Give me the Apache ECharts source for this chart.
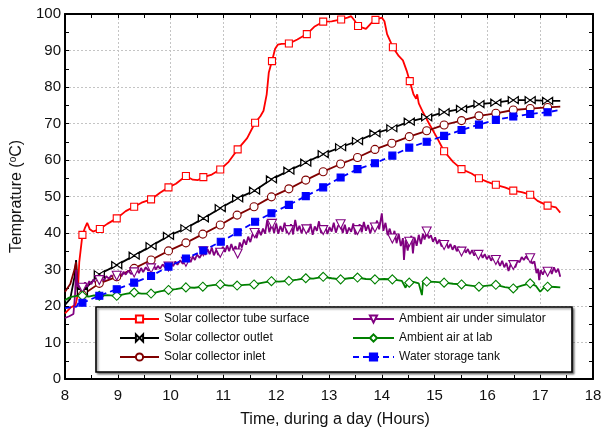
<!DOCTYPE html>
<html>
<head>
<meta charset="utf-8">
<script src="https://cdn.jsdelivr.net/npm/echarts@6/dist/echarts.min.js"></script>
<style>
  html, body { margin: 0; padding: 0; background: #fff; }
  #chart { width: 606px; height: 436px; }
</style>
</head>
<body>
<div id="chart"></div>
<script>
// ---- Measured temperatures (time in hours, temperature in °C) ----
// Each curve: a trace of in-between readings plus the readings shown with markers.

const tubeSurfaceTrace = [
  [8.00,18],[8.10,19.5],[8.20,20.3],[8.24,23],[8.27,32],[8.38,41.5],[8.42,42.8],[8.47,41.0],[8.53,40.4],
  [8.80,42.5],[9.15,46.0],[9.45,48.3],[9.80,51.0],[10.10,53.5],[10.42,54.6],[10.52,54.5],[10.78,56.0],
  [11.10,59.5],[11.45,66.0],[11.70,72.0],[11.76,73.5],[11.82,78.0],[11.86,84.0],[11.98,90.5],[12.03,91.6],
  [12.10,91.8],[12.40,93.0],[12.72,96.5],[13.05,98.0],[13.35,99.0],[13.42,99.4],[13.48,98.3],[13.70,95.9],
  [13.80,97.5],[14.00,99.0],[14.05,98.0],[14.10,94.5],[14.32,88.5],[14.40,87.3],[14.47,84.5],[14.60,78.0],
  [14.65,76.8],[14.67,78.0],[14.70,75.5],[14.79,72.8],[14.91,69.6],[15.05,66.0],[15.35,59.5],[15.70,56.3],
  [16.00,54.0],[16.33,52.5],[16.65,51.2],[16.95,48.8],[17.30,47.0],[17.38,45.6]
];
const tubeSurfaceMarks = [
  [8.33,39.5],[8.66,41.1],[8.98,44.0],[9.31,47.2],[9.63,49.2],[9.96,52.5],[10.29,55.6],[10.62,55.3],
  [10.94,57.4],[11.27,62.9],[11.60,70.2],[11.92,87.1],[12.24,91.9],[12.58,94.5],[12.89,97.9],[13.23,98.5],
  [13.55,96.7],[13.88,98.4],[14.21,90.9],[14.53,81.6],[15.18,62.4],[15.51,57.5],[15.84,55.0],[16.16,53.2],
  [16.49,51.6],[16.81,50.5],[17.14,47.5]
];

const outletTrace = [
  [8.00,20.3],[8.10,22],[8.18,28],[8.21,32.6],[8.24,24.5],[8.28,23.5],[8.40,25.0],[8.50,26.5],[17.38,76.2]
];
const outletMarks = [
  [8.33,24.0],[8.65,28.7],[8.98,31.2],[9.31,33.8],[9.63,36.4],[9.96,39.2],[10.29,41.3],[10.62,44.0],
  [10.94,46.8],[11.27,49.5],[11.59,51.6],[11.91,54.7],[12.24,57.1],[12.56,59.3],[12.89,61.6],[13.22,63.5],
  [13.54,65.2],[13.87,67.3],[14.19,68.7],[14.52,70.5],[14.85,71.7],[15.18,73.1],[15.51,74.0],[15.84,75.3],
  [16.16,75.7],[16.49,76.4],[16.81,76.4],[17.14,76.2]
];

const inletTrace = [
  [8.00,23.9],[8.10,26],[8.18,30],[8.21,32],[8.24,24],[8.28,22.5],[17.38,74.6]
];
const inletMarks = [
  [8.33,23.0],[8.65,26.2],[8.98,28.0],[9.31,30.3],[9.63,32.6],[9.96,35.1],[10.29,37.3],[10.61,39.7],
  [10.94,42.2],[11.26,44.9],[11.58,47.2],[11.91,49.9],[12.24,52.1],[12.56,54.5],[12.89,56.8],[13.22,58.9],
  [13.54,60.7],[13.87,62.9],[14.19,64.6],[14.52,66.4],[14.85,68.0],[15.18,69.6],[15.51,70.8],[15.84,72.1],
  [16.16,72.8],[16.49,73.7],[16.81,74.1],[17.14,74.4]
];

const simulatorAirTrace = [
  [8.00,16.7],[8.08,17.2],[8.16,17.8],[8.19,23],[8.21,29.9],[8.23,26],[8.26,24.8],
  [8.38,26.5],[8.42,25.2],[8.46,26.8],[8.50,26.0],[8.54,27.3],[8.58,26.4],
  [8.70,27.8],[8.74,26.9],[8.78,28.2],[8.83,27.5],[8.88,28.4],[8.93,27.6],
  [9.03,29.0],[9.07,28.1],[9.11,29.4],[9.15,28.6],[9.20,29.7],[9.25,28.8],
  [9.36,30.1],[9.40,29.0],[9.44,30.4],[9.48,29.3],[9.53,30.6],[9.58,29.7],
  [9.68,31.2],[9.72,30.0],[9.76,31.0],[9.80,30.2],[9.85,31.4],[9.90,30.5],
  [10.01,31.8],[10.05,30.9],[10.09,32.2],[10.13,31.3],[10.18,32.5],[10.23,31.6],
  [10.34,33.2],[10.38,32.0],[10.42,33.6],[10.46,32.6],[10.50,34.1],[10.55,33.2],
  [10.66,34.0],[10.70,35.6],[10.74,34.2],[10.78,36.0],[10.82,33.9],[10.87,35.5],[10.90,34.0],
  [10.99,36.2],[11.03,34.8],[11.07,36.6],[11.11,35.0],[11.15,37.0],[11.19,35.2],[11.23,36.4],
  [11.31,37.4],[11.35,36.0],[11.39,38.2],[11.43,36.8],[11.47,39.0],[11.51,37.5],[11.55,39.6],
  [11.63,38.6],[11.67,40.8],[11.71,39.4],[11.75,41.2],[11.79,39.8],[11.83,43.6],[11.87,40.2],
  [11.96,40.0],[12.00,42.6],[12.04,39.8],[12.08,41.9],[12.12,40.3],[12.16,42.8],[12.20,40.0],
  [12.28,42.4],[12.32,39.6],[12.36,43.6],[12.40,40.5],[12.44,42.0],[12.48,39.9],[12.52,41.7],
  [12.61,40.2],[12.65,42.5],[12.69,39.5],[12.73,41.8],[12.77,40.6],[12.81,43.2],[12.85,40.0],
  [12.93,42.0],[12.97,39.7],[13.01,41.6],[13.05,40.4],[13.09,42.8],[13.13,40.1],[13.17,41.9],
  [13.26,40.0],[13.30,42.3],[13.34,39.8],[13.38,41.5],[13.42,40.3],[13.46,42.6],[13.50,39.6],
  [13.58,42.4],[13.62,40.2],[13.66,43.0],[13.70,40.6],[13.74,42.2],[13.78,39.9],[13.82,41.6],
  [13.91,43.4],[13.95,41.0],[14.00,45.4],[14.03,40.6],[14.07,42.8],[14.11,39.4],[14.15,41.2],
  [14.24,40.6],[14.28,37.2],[14.32,39.8],[14.36,36.4],[14.40,38.6],[14.42,32.6],[14.45,38.0],[14.49,35.2],
  [14.56,39.2],[14.59,34.4],[14.62,38.8],[14.66,36.5],[14.70,39.5],[14.74,37.0],[14.78,39.8],[14.81,38.2],
  [14.89,38.6],[14.93,39.4],[14.97,37.6],[15.01,38.8],[15.05,37.0],[15.09,38.2],[15.13,36.4],
  [15.22,37.6],[15.26,35.8],[15.30,37.0],[15.34,35.4],[15.38,36.6],[15.42,35.0],[15.46,36.2],
  [15.55,35.9],[15.59,34.6],[15.63,35.6],[15.67,34.2],[15.71,35.3],[15.75,33.8],[15.79,34.8],
  [15.87,34.6],[15.91,33.2],[15.95,34.2],[15.99,32.8],[16.03,33.8],[16.07,32.4],[16.11,33.5],
  [16.20,32.2],[16.24,31.0],[16.28,32.4],[16.32,30.6],[16.36,31.8],[16.40,29.6],[16.44,31.4],
  [16.53,30.6],[16.57,32.4],[16.61,32.0],[16.65,33.4],[16.69,32.6],[16.73,33.6],[16.77,32.8],
  [16.85,31.6],[16.89,32.2],[16.93,29.0],[16.96,30.2],[16.98,27.1],[17.01,29.8],[17.05,28.6],[17.09,30.0],
  [17.18,30.4],[17.22,28.8],[17.26,30.6],[17.30,29.2],[17.34,30.2],[17.38,28.0]
];
const simulatorAirMarks = [
  [8.33,25.0],[8.65,27.1],[8.98,28.3],[9.31,29.2],[9.63,30.3],[9.96,30.8],[10.29,32.1],[10.62,35.0],
  [10.94,34.6],[11.27,34.4],[11.59,40.0],[11.92,42.5],[12.24,40.8],[12.57,41.0],[12.89,40.8],[13.22,42.4],
  [13.54,40.8],[13.87,41.5],[14.20,38.5],[14.52,37.6],[14.85,40.4],[15.18,36.7],[15.51,34.9],[15.83,34.0],
  [16.16,32.6],[16.49,31.2],[16.81,33.1],[17.14,29.4]
];

const labAirTrace = [
  [8.00,21.6],[8.08,22.3],[8.15,22.6],[8.22,22.8],[8.45,22.6],[8.55,22.9],[8.80,23.0],[9.15,23.3],
  [9.45,23.4],[9.80,24.0],[10.10,24.6],[10.45,25.0],[10.80,25.7],[11.10,25.6],[11.40,25.8],[11.75,26.4],
  [12.05,26.7],[12.40,27.2],[12.70,27.5],[13.05,27.6],[13.38,27.6],[13.70,27.4],[14.05,27.4],[14.38,26.9],
  [14.45,25.0],[14.50,26.8],[14.60,26.6],[14.70,26.2],[14.76,23.0],[14.78,26.4],[15.00,26.6],[15.35,26.1],
  [15.68,25.6],[16.00,25.6],[16.33,25.2],[16.65,25.6],[16.92,25.5],[17.00,23.9],[17.07,25.0],[17.28,25.2],
  [17.38,25.1]
];
const labAirMarks = [
  [8.33,22.8],[8.65,22.8],[8.98,22.8],[9.31,23.7],[9.63,23.4],[9.96,24.4],[10.29,25.1],[10.61,25.3],
  [10.94,25.9],[11.26,25.6],[11.58,25.9],[11.91,26.8],[12.24,26.9],[12.56,27.6],[12.89,28.0],[13.22,27.3],
  [13.54,27.8],[13.87,27.3],[14.20,27.3],[14.52,26.4],[14.85,26.7],[15.18,26.4],[15.51,25.9],[15.84,25.3],
  [16.16,25.8],[16.49,24.8],[16.81,26.2],[17.14,25.3]
];

const tankTrace = [
  [8.00,19.4],[8.10,19.6],[8.22,19.8],[8.26,21.0],[17.38,73.7]
];
const tankMarks = [
  [8.33,20.9],[8.65,22.8],[8.98,24.6],[9.31,26.4],[9.63,28.2],[9.96,30.8],[10.29,33.0],[10.62,35.2],
  [10.95,37.6],[11.27,40.2],[11.60,43.1],[11.91,45.4],[12.24,47.7],[12.56,50.1],[12.89,52.5],[13.22,55.2],
  [13.54,57.5],[13.87,59.1],[14.20,61.2],[14.52,63.4],[14.85,65.0],[15.18,66.6],[15.51,68.2],[15.84,69.7],
  [16.16,71.0],[16.49,71.9],[16.81,72.6],[17.14,73.1]
];

const seriesNames = [
  'Solar collector tube surface',
  'Solar collector outlet',
  'Solar collector inlet',
  'Ambient air under simulator',
  'Ambient air at lab',
  'Water storage tank'
];

// ---- Chart construction ----

// Merge trace readings (no marker) with marker readings, ordered by time.
function buildData(trace, marks) {
  const pts = trace.map(p => ({ value: p, symbol: 'none' }))
    .concat(marks.map(p => ({ value: p })));
  pts.sort((a, b) => a.value[0] - b.value[0]);
  return pts;
}

const bowtie = 'path://M0,0L6,4L0,8ZM12,0L6,4L12,8Z';

function lineSeries(name, trace, marks, color, symbol, size, fill, extra) {
  return Object.assign({
    name: name,
    type: 'line',
    data: buildData(trace, marks),
    showSymbol: true,
    symbol: symbol,
    symbolSize: size,
    lineStyle: { color: color, width: 1.8 },
    itemStyle: { color: fill, borderColor: color, borderWidth: 1.1 },
    emphasis: { disabled: true },
    animation: false
  }, extra || {});
}

const axisText = { color: '#111', fontSize: 15, fontFamily: 'Liberation Sans, Arial, sans-serif' };
const gridLine = { show: true, lineStyle: { color: '#c4c4c4', type: [2, 2], width: 1 } };
const frameLine = { show: true, onZero: false, lineStyle: { color: '#000', width: 2 } };
const tick = { show: true, inside: true, length: 4, lineStyle: { color: '#000', width: 1 } };
const minor = { show: true, splitNumber: 2, length: 4, lineStyle: { color: '#000', width: 1 } };

const legendCommon = {
  orient: 'vertical', top: 312, padding: 0,
  itemHeight: 9, itemGap: 5, selectedMode: false,
  textStyle: { fontSize: 12, color: '#111', lineHeight: 14 }, z: 10
};

const chart = echarts.init(document.getElementById('chart'), null, { renderer: 'canvas' });

chart.setOption({
  animation: false,
  backgroundColor: '#fff',
  textStyle: { fontFamily: 'Liberation Sans, Arial, sans-serif' },
  grid: { left: 65, right: 13, top: 14, bottom: 57, containLabel: false },
  xAxis: [
    {
      type: 'value', min: 8, max: 18, interval: 1, position: 'bottom',
      name: 'Time, during a day (Hours)', nameLocation: 'middle', nameGap: 33,
      nameTextStyle: { color: '#111', fontSize: 16, padding: [0, 0, 0, 12] },
      axisLine: frameLine, axisTick: tick, minorTick: minor,
      axisLabel: Object.assign({ margin: 9 }, axisText),
      splitLine: gridLine
    },
    {
      type: 'value', min: 8, max: 18, interval: 1, position: 'top',
      axisLine: frameLine, axisTick: tick, minorTick: minor,
      axisLabel: { show: false }, splitLine: { show: false }
    }
  ],
  yAxis: [
    {
      type: 'value', min: 0, max: 100, interval: 10, position: 'left',
      name: '{n|Temprature (}{s|o}{n|C)}', nameLocation: 'middle', nameGap: 37,
      nameTextStyle: {
        rich: {
          n: { fontSize: 16, color: '#111', lineHeight: 18 },
          s: { fontSize: 10, color: '#111', verticalAlign: 'top', lineHeight: 18, padding: [0, 0, 6, 0] }
        }
      },
      axisLine: frameLine, axisTick: tick, minorTick: minor,
      axisLabel: Object.assign({ margin: 4 }, axisText),
      splitLine: gridLine
    },
    {
      type: 'value', min: 0, max: 100, interval: 10, position: 'right',
      axisLine: frameLine, axisTick: tick, minorTick: minor,
      axisLabel: { show: false }, splitLine: { show: false }
    }
  ],
  legend: [
    Object.assign({ data: [seriesNames[0], seriesNames[1], seriesNames[2]], left: 119, itemWidth: 39 }, legendCommon),
    Object.assign({ data: [seriesNames[3], seriesNames[4], seriesNames[5]], left: 352, itemWidth: 41 }, legendCommon)
  ],
  graphic: [
    {
      type: 'rect', z: 5,
      shape: { x: 96, y: 307, width: 476, height: 65 },
      style: {
        fill: '#fff', stroke: '#000', lineWidth: 1.6,
        shadowBlur: 2, shadowOffsetX: 1.5, shadowOffsetY: 1.5, shadowColor: 'rgba(0,0,0,0.45)'
      }
    }
  ],
  series: [
    lineSeries(seriesNames[0], tubeSurfaceTrace, tubeSurfaceMarks, '#ff0000', 'rect', 7, '#fff'),
    lineSeries(seriesNames[1], outletTrace, outletMarks, '#000000', bowtie, [10, 7], '#fff'),
    lineSeries(seriesNames[2], inletTrace, inletMarks, '#800000', 'circle', 8, '#fff'),
    lineSeries(seriesNames[3], simulatorAirTrace, simulatorAirMarks, '#800080', 'triangle', 9, '#fff',
      { symbolRotate: 180 }),
    lineSeries(seriesNames[4], labAirTrace, labAirMarks, '#008000', 'diamond', 9, '#fff'),
    lineSeries(seriesNames[5], tankTrace, tankMarks, '#0000ff', 'rect', 7, '#0000ff',
      { lineStyle: { color: '#0000ff', width: 1.8, type: [6, 4] } })
  ]
});
</script>
</body>
</html>
